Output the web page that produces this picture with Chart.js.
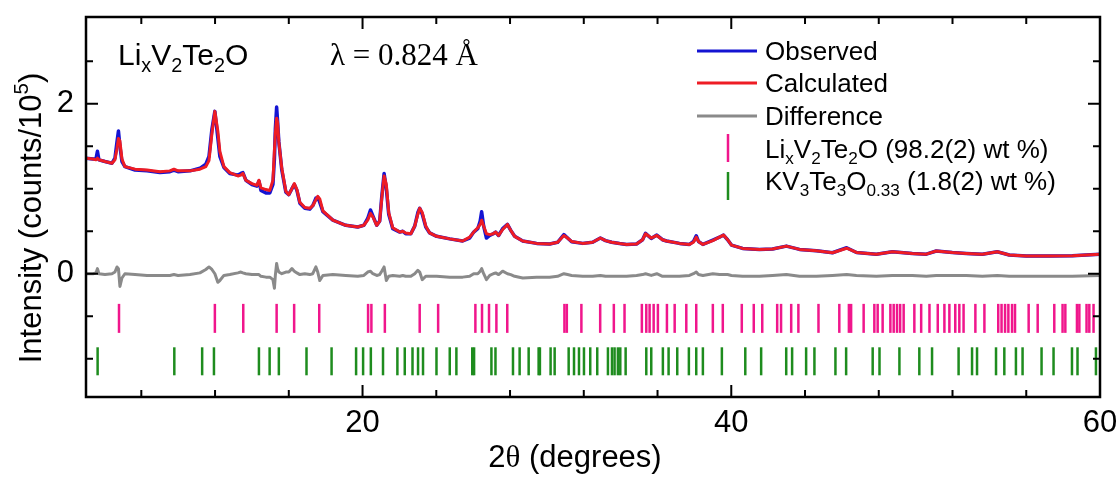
<!DOCTYPE html>
<html><head><meta charset="utf-8">
<script src="https://cdn.jsdelivr.net/npm/chart.js@4.4.1/dist/chart.umd.min.js"></script>
<style>html,body{margin:0;padding:0;background:#fff;}canvas{display:block;}</style>
</head><body>
<canvas id="c" width="1118" height="477"></canvas>
<script>
// ---------- data ----------
const twoTheta = [5.00,5.38,5.54,5.62,5.70,6.03,6.41,6.57,6.68,6.76,6.84,6.95,7.11,7.66,8.31,9.01,9.55,9.77,9.99,10.64,
11.18,11.50,11.67,11.83,11.99,12.15,12.26,12.48,12.80,13.24,13.40,13.51,13.67,14.00,14.27,14.38,14.49,14.76,14.97,15.14,
15.22,15.27,15.34,15.39,15.46,15.62,15.84,16.00,16.17,16.30,16.44,16.60,16.87,17.14,17.30,17.47,17.57,17.68,17.85,18.39,
19.09,19.74,20.07,20.28,20.43,20.56,20.77,20.93,21.04,21.17,21.29,21.42,21.64,22.02,22.18,22.34,22.62,22.83,23.00,23.10,
23.24,23.43,23.64,24.02,24.73,25.43,25.81,26.03,26.25,26.38,26.46,26.57,26.72,26.90,27.09,27.22,27.38,27.60,27.86,28.04,
28.25,28.69,29.44,30.15,30.58,30.92,31.12,31.34,31.94,32.48,32.90,33.18,33.51,33.94,34.32,34.86,35.19,35.35,35.66,35.96,
36.27,36.49,37.19,37.73,37.95,38.10,38.22,38.46,39.00,39.36,39.58,39.80,40.01,40.61,41.53,42.24,42.99,43.70,44.62,45.49,
46.26,46.79,47.87,48.74,49.82,50.58,51.12,51.99,52.75,53.62,54.43,55.08,56.00,57.25,58.50,60.00];
const observed = [1.36,1.35,1.35,1.44,1.34,1.32,1.30,1.36,1.55,1.68,1.50,1.32,1.26,1.22,1.21,1.19,1.20,1.22,1.20,1.21,
1.24,1.29,1.38,1.70,1.91,1.60,1.38,1.25,1.18,1.16,1.18,1.19,1.10,1.05,1.03,1.09,0.98,0.95,0.95,1.05,
1.35,1.70,1.96,1.80,1.55,1.22,0.96,0.93,1.00,1.05,0.98,0.83,0.77,0.76,0.80,0.89,0.90,0.84,0.73,0.63,
0.57,0.55,0.57,0.65,0.75,0.68,0.57,0.62,0.90,1.18,1.00,0.70,0.53,0.49,0.50,0.47,0.47,0.56,0.72,0.77,
0.70,0.55,0.48,0.44,0.41,0.385,0.42,0.49,0.53,0.62,0.73,0.56,0.42,0.45,0.47,0.49,0.45,0.53,0.58,0.51,
0.44,0.385,0.357,0.35,0.37,0.46,0.42,0.376,0.357,0.37,0.42,0.39,0.37,0.355,0.345,0.35,0.40,0.475,0.415,0.455,
0.40,0.385,0.357,0.345,0.38,0.447,0.38,0.345,0.396,0.43,0.455,0.40,0.337,0.298,0.286,0.29,0.325,0.286,0.27,0.247,
0.306,0.25,0.23,0.259,0.239,0.23,0.267,0.25,0.239,0.23,0.259,0.22,0.208,0.21,0.212,0.23];
const calculated = [1.36,1.35,1.34,1.36,1.34,1.32,1.30,1.34,1.47,1.59,1.56,1.35,1.26,1.23,1.22,1.20,1.21,1.23,1.21,1.21,
1.23,1.26,1.33,1.65,1.91,1.68,1.44,1.26,1.19,1.15,1.16,1.18,1.10,1.06,1.04,1.10,1.01,0.99,0.98,1.10,
1.45,1.65,1.83,1.78,1.55,1.24,0.97,0.93,1.00,1.06,0.99,0.84,0.78,0.77,0.80,0.87,0.91,0.88,0.74,0.63,
0.57,0.55,0.57,0.63,0.71,0.67,0.57,0.62,0.88,1.15,1.05,0.72,0.54,0.49,0.50,0.48,0.47,0.56,0.70,0.77,
0.72,0.56,0.48,0.44,0.41,0.385,0.43,0.49,0.54,0.58,0.63,0.56,0.47,0.46,0.47,0.49,0.45,0.52,0.58,0.51,
0.44,0.385,0.357,0.35,0.37,0.45,0.42,0.38,0.357,0.37,0.42,0.39,0.37,0.355,0.345,0.35,0.40,0.47,0.42,0.45,
0.40,0.385,0.357,0.345,0.37,0.43,0.38,0.345,0.39,0.43,0.455,0.40,0.337,0.298,0.286,0.29,0.325,0.286,0.27,0.247,
0.30,0.25,0.23,0.259,0.239,0.23,0.267,0.25,0.239,0.23,0.259,0.22,0.208,0.21,0.212,0.23];
const difference = [0.00,0.00,0.01,0.06,0.00,-0.01,0.00,0.02,0.08,0.06,-0.15,-0.05,0.00,-0.01,-0.02,-0.02,-0.02,-0.01,-0.02,-0.01,
0.01,0.05,0.08,0.05,0.00,-0.10,-0.08,-0.02,-0.01,0.01,0.02,0.01,0.00,-0.01,-0.01,-0.01,-0.03,-0.04,-0.04,-0.07,
-0.17,-0.02,0.12,0.06,0.02,0.00,0.02,0.02,0.06,0.03,0.01,-0.01,0.00,-0.01,0.00,0.08,0.02,-0.08,-0.02,-0.01,
-0.02,-0.03,-0.02,0.02,0.03,0.00,-0.02,-0.01,0.03,0.08,-0.08,-0.03,-0.02,-0.03,-0.02,-0.03,-0.03,0.00,0.04,0.02,
-0.07,-0.03,-0.03,-0.03,-0.04,-0.04,-0.03,0.00,0.00,0.03,0.06,0.00,-0.07,-0.02,0.00,0.01,-0.01,0.03,0.00,-0.01,
-0.03,-0.05,-0.04,-0.04,-0.03,0.00,-0.01,-0.02,-0.03,-0.03,-0.02,-0.03,-0.03,-0.03,-0.03,-0.02,-0.01,0.00,-0.02,0.00,
-0.03,-0.03,-0.03,-0.02,0.00,0.02,-0.01,-0.02,0.00,-0.01,-0.01,-0.01,-0.02,-0.03,-0.03,-0.02,-0.01,-0.03,-0.03,-0.02,
-0.01,-0.02,-0.03,-0.02,-0.02,-0.03,-0.02,-0.02,-0.02,-0.03,-0.02,-0.03,-0.03,-0.03,-0.03,-0.02];
// Bragg reflection positions (2θ)
const reflLiV2Te2O = [6.79,11.99,13.53,15.34,16.29,17.65,20.30,20.48,21.21,23.10,24.10,26.12,26.48,26.86,27.26,27.85,
30.95,31.08,31.87,32.89,33.63,34.21,35.15,35.39,35.57,35.79,36.02,36.51,36.93,37.56,38.10,39.00,39.54,40.57,41.22,41.68,
42.49,42.70,43.25,43.64,44.73,45.86,46.38,46.50,47.18,47.76,47.94,48.21,48.63,48.81,48.99,49.16,49.35,49.93,50.30,50.75,
51.20,51.56,51.83,52.15,52.37,52.60,53.24,53.73,54.48,54.66,54.85,55.03,55.23,55.39,56.13,56.62,57.52,57.97,58.12,58.75,
58.88,59.27,59.42,59.65];
const reflKV3Te3O = [5.63,9.79,11.30,11.94,14.38,14.96,15.46,16.96,18.32,19.65,20.03,20.45,21.11,21.89,22.29,22.71,23.01,
23.28,24.01,24.73,25.09,25.95,26.05,26.99,27.21,28.16,28.52,29.01,29.55,29.62,30.20,30.42,31.18,31.47,31.74,32.01,32.35,
32.73,33.31,33.53,33.67,33.85,33.98,34.27,35.39,35.66,36.29,36.60,37.07,37.70,38.10,38.46,39.49,40.76,41.62,42.98,43.30,
44.06,44.51,45.65,46.23,47.67,48.04,49.12,50.20,50.89,52.33,53.06,53.33,54.36,54.81,55.44,55.80,56.83,57.48,58.48,58.78,59.78];
const rowLiV2Te2O = -0.525;   // y level of the tick row
const rowKV3Te3O = -1.03;
const xMajorTicks = [20, 40, 60];
const xMinorTicks = [8, 12, 16, 24, 28, 32, 36, 44, 48, 52, 56];
const yMajorTicks = [0, 2];
const yMinorTicks = [-1, -0.5, 0.5, 1, 1.5, 2.5];

// ---------- styling ----------
const SANS = '"Liberation Sans", Arial, sans-serif';
const SERIF = '"Liberation Serif", "Times New Roman", serif';
const C_OBS = '#1414d2', C_CALC = '#ee1c24', C_DIFF = '#8a8a8a', C_P1 = '#f0168c', C_P2 = '#1e8c1e';

const xy = (xs, ys) => xs.map((x, i) => ({x, y: ys[i]}));
const marks = (xs, level) => xs.map(x => ({x, y: level}));

const SUB = 0.66;
function segFont(s, size, family) {
  const fs = s.sub || s.sup ? size * SUB : size;
  return fs + 'px ' + (s.family || family);
}
function drawRich(ctx, x, y, segs, size, family) {
  let cx = x;
  for (const s of segs) {
    const dy = s.sub ? size * 0.24 : s.sup ? -size * 0.42 : 0;
    ctx.font = segFont(s, size, family);
    ctx.fillText(s.t, cx, y + dy);
    cx += ctx.measureText(s.t).width;
  }
  return cx - x;
}
function richWidth(ctx, segs, size, family) {
  let w = 0;
  for (const s of segs) { ctx.font = segFont(s, size, family); w += ctx.measureText(s.t).width; }
  return w;
}

const decor = {
  id: 'decor',
  afterDraw(chart) {
    const {ctx, chartArea: a, scales: {x, y}} = chart;
    ctx.save();
    // frame
    ctx.strokeStyle = '#000';
    ctx.lineWidth = 2.5;
    ctx.strokeRect(a.left, a.top, a.right - a.left, a.bottom - a.top);
    // ticks (inward, mirrored)
    ctx.lineWidth = 2;
    ctx.beginPath();
    const xt = (v, len) => { const p = x.getPixelForValue(v);
      ctx.moveTo(p, a.bottom); ctx.lineTo(p, a.bottom - len);
      ctx.moveTo(p, a.top); ctx.lineTo(p, a.top + len); };
    const yt = (v, len) => { const p = y.getPixelForValue(v);
      ctx.moveTo(a.left, p); ctx.lineTo(a.left + len, p);
      ctx.moveTo(a.right, p); ctx.lineTo(a.right - len, p); };
    xMajorTicks.forEach(v => xt(v, 12)); xMinorTicks.forEach(v => xt(v, 7));
    yMajorTicks.forEach(v => yt(v, 12)); yMinorTicks.forEach(v => yt(v, 7));
    ctx.stroke();

    ctx.fillStyle = '#000';
    ctx.textBaseline = 'alphabetic';
    ctx.textAlign = 'left';
    // x title
    const xs = [{t:'2'},{t:'θ', family: SERIF},{t:' (degrees)'}];
    const xw = richWidth(ctx, xs, 31, SANS);
    drawRich(ctx, 575 - xw / 2, 467, xs, 31, SANS);
    // y title
    const ys = [{t:'Intensity (counts/10'},{t:'5', sup:true},{t:')'}];
    const yw = richWidth(ctx, ys, 31, SANS);
    ctx.save(); ctx.translate(41, 218); ctx.rotate(-Math.PI / 2);
    drawRich(ctx, -yw / 2, 0, ys, 31, SANS); ctx.restore();
    // sample label
    drawRich(ctx, 118, 65, [{t:'Li'},{t:'x',sub:true},{t:'V'},{t:'2',sub:true},{t:'Te'},{t:'2',sub:true},{t:'O'}], 30, SANS);
    ctx.font = '31px ' + SERIF;
    ctx.fillText('λ = 0.824 Å', 330, 65);

    // legend
    ctx.lineWidth = 3;
    [[C_OBS, 51], [C_CALC, 83], [C_DIFF, 116]].forEach(([c, yy]) => {
      ctx.strokeStyle = c; ctx.beginPath(); ctx.moveTo(697, yy); ctx.lineTo(757, yy); ctx.stroke();
    });
    ctx.lineWidth = 2.5;
    ctx.strokeStyle = C_P1; ctx.beginPath(); ctx.moveTo(728, 134); ctx.lineTo(728, 162); ctx.stroke();
    ctx.strokeStyle = C_P2; ctx.beginPath(); ctx.moveTo(728, 172); ctx.lineTo(728, 200); ctx.stroke();
    const L = 26;
    ctx.fillStyle = '#000';
    drawRich(ctx, 765, 60, [{t:'Observed'}], L, SANS);
    drawRich(ctx, 765, 92, [{t:'Calculated'}], L, SANS);
    drawRich(ctx, 765, 125, [{t:'Difference'}], L, SANS);
    drawRich(ctx, 765, 158, [{t:'Li'},{t:'x',sub:true},{t:'V'},{t:'2',sub:true},{t:'Te'},{t:'2',sub:true},{t:'O (98.2(2) wt %)'}], L, SANS);
    drawRich(ctx, 765, 190, [{t:'KV'},{t:'3',sub:true},{t:'Te'},{t:'3',sub:true},{t:'O'},{t:'0.33',sub:true},{t:' (1.8(2) wt %)'}], L, SANS);
    ctx.restore();
  }
};

new Chart(document.getElementById('c'), {
  type: 'scatter',
  data: {
    datasets: [
      {label: 'Calculated', data: xy(twoTheta, calculated), showLine: true, borderColor: C_CALC, borderWidth: 3, pointRadius: 0, order: 1},
      {label: 'Observed', data: xy(twoTheta, observed), showLine: true, borderColor: C_OBS, borderWidth: 3.5, pointRadius: 0, order: 2},
      {label: 'Difference', data: xy(twoTheta, difference), showLine: true, borderColor: C_DIFF, borderWidth: 3, pointRadius: 0, order: 3},
      {label: 'LixV2Te2O', data: marks(reflLiV2Te2O, rowLiV2Te2O), showLine: false, pointStyle: 'line', rotation: 90,
        pointRadius: 14.5, borderColor: C_P1, borderWidth: 2.5, order: 4},
      {label: 'KV3Te3O0.33', data: marks(reflKV3Te3O, rowKV3Te3O), showLine: false, pointStyle: 'line', rotation: 90,
        pointRadius: 14, borderColor: C_P2, borderWidth: 2.5, order: 5}
    ]
  },
  options: {
    responsive: false, animation: false, devicePixelRatio: 1,
    layout: {padding: {top: 15, right: 18, bottom: 0, left: 0}},
    plugins: {legend: {display: false}, tooltip: {enabled: false}},
    elements: {line: {tension: 0, borderJoinStyle: 'round'}},
    scales: {
      x: {
        type: 'linear', min: 5, max: 60,
        grid: {display: false, drawTicks: false}, border: {display: false},
        afterBuildTicks: s => { s.ticks = xMajorTicks.map(v => ({value: v})); },
        afterFit: s => { s.height = 80; s.paddingLeft = 0; s.paddingRight = 0; },
        ticks: {font: {family: SANS, size: 31}, color: '#000', padding: 8, maxRotation: 0}
      },
      y: {
        type: 'linear', min: -1.45, max: 3.02,
        grid: {display: false, drawTicks: false}, border: {display: false},
        afterBuildTicks: s => { s.ticks = yMajorTicks.map(v => ({value: v})); },
        afterFit: s => { s.width = 86; s.paddingTop = 0; s.paddingBottom = 0; },
        ticks: {font: {family: SANS, size: 31}, color: '#000', padding: 12}
      }
    }
  },
  plugins: [decor]
});
</script>
</body></html>
